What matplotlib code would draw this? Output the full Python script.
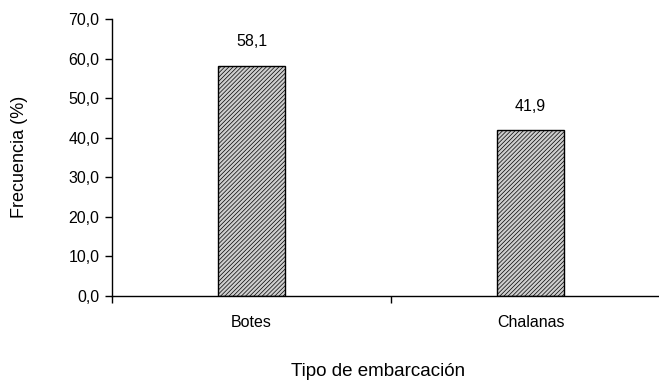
import matplotlib.pyplot as plt
from matplotlib.ticker import FuncFormatter

plt.rcParams["font.family"] = ["Liberation Sans", "DejaVu Sans"]
plt.rcParams["hatch.linewidth"] = 0.5
plt.rcParams["hatch.color"] = "#b2b2b2"

CATEGORIES = ["Botes", "Chalanas"]
FREQUENCY = [58.1, 41.9]
Y_TICKS = [0, 10, 20, 30, 40, 50, 60, 70]


def comma(value, _pos=None):
    return f"{value:.1f}".replace(".", ",")


fig = plt.figure(figsize=(6.59, 3.85), dpi=100)
ax = fig.add_axes([112 / 659, 89 / 385, 558 / 659, 277 / 385])

positions = list(range(len(CATEGORIES)))
bars = ax.bar(
    positions,
    FREQUENCY,
    width=0.237,
    color="#cecece",
    edgecolor="black",
    linewidth=1.0,
    hatch="////////",
)
for bar, value in zip(bars, FREQUENCY):
    bar.set_edgecolor("black")
    ax.annotate(
        comma(value),
        (bar.get_x() + bar.get_width() / 2, value),
        xytext=(0, 12),
        textcoords="offset points",
        ha="center",
        va="bottom",
        fontsize=11.5,
    )

ax.set_xlim(-0.5, len(CATEGORIES) - 0.5)
ax.set_ylim(0, 70)
ax.set_yticks(Y_TICKS)
ax.yaxis.set_major_formatter(FuncFormatter(comma))

# category boundaries get the tick marks, names sit in the middle
ax.set_xticks([p - 0.5 for p in positions] + [len(CATEGORIES) - 0.5])
ax.set_xticklabels([])
ax.set_xticks(positions, minor=True)
ax.set_xticklabels(CATEGORIES, minor=True)
ax.tick_params(axis="x", which="minor", length=0, pad=14, labelsize=11.5)
ax.tick_params(axis="x", which="major", length=5, width=1, direction="out")
ax.tick_params(axis="y", length=5, width=1, direction="out", pad=4, labelsize=11.5)

for side in ("top", "right"):
    ax.spines[side].set_visible(False)
for side in ("left", "bottom"):
    ax.spines[side].set_linewidth(1.0)

fig.text(20 / 659, 1 - 157 / 385, "Frecuencia (%)", rotation=90, ha="center",
         va="center", fontsize=13)
fig.text(378 / 659, 1 - 372 / 385, "Tipo de embarcación", ha="center",
         va="center", fontsize=13.5)

fig.savefig("out.png", dpi=100)
